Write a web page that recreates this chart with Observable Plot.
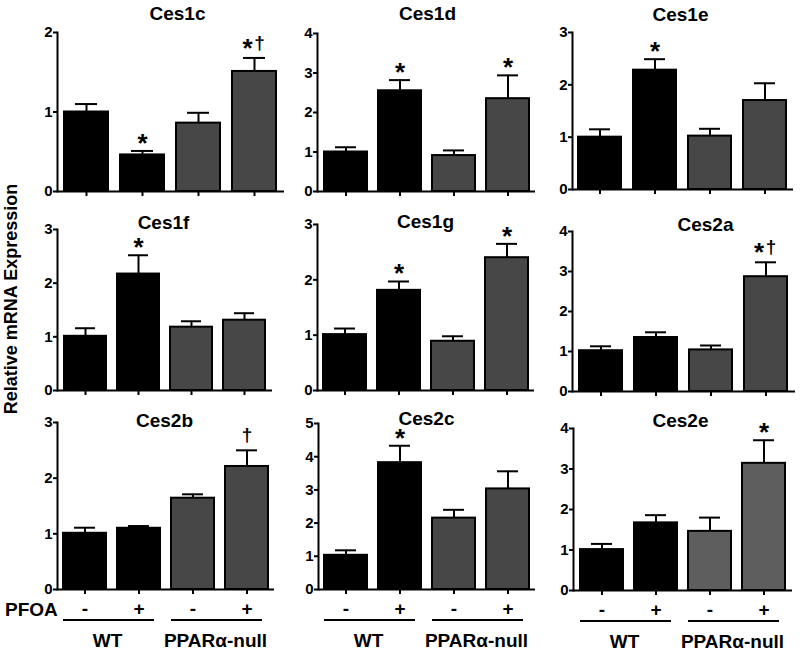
<!DOCTYPE html>
<html><head><meta charset="utf-8">
<script src="https://cdn.jsdelivr.net/npm/d3@7"></script>
<script src="https://cdn.jsdelivr.net/npm/@observablehq/plot@0.6"></script>
<style>
body{margin:0;background:#fff;}
#chart{position:relative;width:800px;height:651px;font-family:"Liberation Sans",Arial,sans-serif;overflow:hidden;}
#chart svg{position:absolute;overflow:visible;max-width:none;}
#ylab{position:absolute;left:11px;top:299px;transform:translate(-50%,-50%) rotate(-90deg);font-weight:bold;font-size:18px;white-space:nowrap;}
</style></head><body>
<div id="chart"><div id="ylab">Relative mRNA Expression</div></div>
<script>
// ---- data ----
const genes = ["Ces1c","Ces1d","Ces1e","Ces1f","Ces1g","Ces2a","Ces2b","Ces2c","Ces2e"];
const groups = ["WT -","WT +","KO -","KO +"];
const pfoaLabels = ["-","+","-","+"];
const genotypeLabels = ["WT","PPARα-null"];
const yMax = [2,4,3,3,3,4,3,5,4];
const means = [
  [1.00,0.46,0.86,1.51],
  [1.00,2.55,0.91,2.35],
  [1.00,2.28,1.02,1.70],
  [1.01,2.17,1.18,1.31],
  [1.01,1.81,0.89,2.40],
  [1.02,1.35,1.04,2.87],
  [1.01,1.10,1.64,2.21],
  [1.03,3.82,2.15,3.03],
  [1.01,1.67,1.46,3.14]
];
const errTops = [
  [1.10,0.51,0.99,1.68],
  [1.12,2.82,1.04,2.94],
  [1.15,2.49,1.16,2.03],
  [1.16,2.52,1.29,1.44],
  [1.12,1.97,0.98,2.65],
  [1.13,1.48,1.15,3.23],
  [1.11,1.14,1.71,2.50],
  [1.18,4.33,2.40,3.56],
  [1.15,1.86,1.80,3.71]
];
const stars = [
  ["","*","","*"],
  ["","*","","*"],
  ["","*","",""],
  ["","*","",""],
  ["","*","","*"],
  ["","","","*"],
  ["","","",""],
  ["","*","",""],
  ["","","","*"]
];
const daggers = [
  ["","","","†"],
  ["","","",""],
  ["","","",""],
  ["","","",""],
  ["","","",""],
  ["","","","†"],
  ["","","","†"],
  ["","","",""],
  ["","","",""]
];

// ---- layout (pixel positions, styles) ----
const layout = [
  {left:0,   ax:57,  w:227, top:32,  bot:191, tx:177, ty:13,  row:0, gray:"#474747"},
  {left:260, ax:317, w:218, top:33,  bot:191, tx:427, ty:13,  row:0, gray:"#474747"},
  {left:515, ax:572, w:221, top:32,  bot:189, tx:680, ty:14,  row:0, gray:"#474747"},
  {left:0,   ax:57,  w:215, top:229, bot:390, tx:163, ty:222, row:1, gray:"#474747"},
  {left:260, ax:317, w:217, top:224, bot:390, tx:425, ty:221, row:1, gray:"#474747"},
  {left:515, ax:572, w:223, top:231, bot:391, tx:705, ty:224, row:1, gray:"#474747"},
  {left:0,   ax:57,  w:217, top:422, bot:589, tx:164, ty:420, row:2, gray:"#474747"},
  {left:260, ax:318, w:217, top:423, bot:589, tx:426, ty:418, row:2, gray:"#474747"},
  {left:515, ax:573, w:219, top:428, bot:590, tx:680, ty:420, row:2, gray:"#5e5e5e"}
];
const FONT = '"Liberation Sans", Arial, sans-serif';
const chart = document.getElementById("chart");

genes.forEach((gene, k) => {
  const L = layout[k];
  const mt = 32, mb = L.row === 2 ? 62 : 12, ml = L.ax - L.left, mr = 8;
  const rows = groups.map((g, i) => ({g, v: means[k][i], e: errTops[k][i], s: stars[k][i], d: daggers[k][i]}));
  const both = rows.filter(r => r.s && r.d);
  const starOnly = rows.filter(r => r.s && !r.d);
  const dagOnly = rows.filter(r => r.d && !r.s);
  const bottomRow = L.row === 2;
  const svg = Plot.plot({
    width: ml + L.w + mr,
    height: mt + (L.bot - L.top) + mb,
    marginLeft: ml, marginRight: mr, marginTop: mt, marginBottom: mb,
    style: {fontFamily: FONT, background: "transparent", overflow: "visible"},
    x: {domain: groups, paddingInner: 0.21, paddingOuter: 0.11, axis: null},
    y: {domain: [0, yMax[k]], axis: null},
    color: {type: "identity"},
    marks: [
      Plot.barY(rows, {x: "g", y: "v", fill: r => r.g.startsWith("WT") ? "#000000" : L.gray, stroke: "#000", strokeWidth: 2}),
      Plot.ruleX(rows, {x: "g", y1: "v", y2: "e", stroke: "#000", strokeWidth: 2}),
      Plot.tickY(rows, {x: "g", y: "e", stroke: "#000", strokeWidth: 2, insetLeft: 11, insetRight: 11}),
      Plot.text(starOnly, {x: "g", y: "e", text: "s", fontSize: 26, fontWeight: "bold", lineAnchor: "bottom", dy: 1}),
      Plot.text(both, {x: "g", y: "e", text: "s", fontSize: 26, fontWeight: "bold", lineAnchor: "bottom", dy: -1, dx: -7}),
      Plot.text(both, {x: "g", y: "e", text: "d", fontSize: 19, fontWeight: "bold", lineAnchor: "bottom", dy: -9, dx: 5}),
      Plot.text(dagOnly, {x: "g", y: "e", text: "d", fontSize: 19, fontWeight: "bold", lineAnchor: "bottom", dy: -9}),
      Plot.axisY({ticks: d3.range(0, yMax[k] + 1), tickFormat: d => String(d), tickSize: 4, tickPadding: 1, fontSize: 15, fontWeight: "bold", strokeWidth: 2, label: null}),
      Plot.axisX({tickSize: 5, tickPadding: 7, strokeWidth: 2, fontSize: 19, fontWeight: "bold", label: null,
        tickFormat: d => bottomRow ? pfoaLabels[groups.indexOf(d)] : ""}),
      Plot.ruleY([0], {stroke: "#000", strokeWidth: 2}),
      Plot.frame({anchor: "left", stroke: "#000", strokeWidth: 2}),
      Plot.text([gene], {frameAnchor: "top-left", dx: L.tx - L.ax, dy: L.ty - L.top, text: d => d, fontSize: 19, fontWeight: "bold", textAnchor: "middle", lineAnchor: "middle"})
    ]
  });
  svg.style.left = L.left + "px";
  svg.style.top = (L.top - mt) + "px";
  if (bottomRow) {
    const sx = svg.scale("x");
    const y0 = mt + (L.bot - L.top);
    const g = d3.select(svg).append("g").attr("font-family", FONT).attr("font-weight", "bold").attr("font-size", 19);
    [[0, 1], [2, 3]].forEach(([a, b], j) => {
      const xa = sx.apply(groups[a]), xb = sx.apply(groups[b]) + sx.bandwidth;
      g.append("line").attr("x1", xa).attr("x2", xb - 6).attr("y1", y0 + 31).attr("y2", y0 + 31)
        .attr("stroke", "#000").attr("stroke-width", 2);
      g.append("text").attr("x", (xa + xb) / 2 - 4).attr("y", y0 + 52).attr("dy", "0.32em")
        .attr("text-anchor", "middle").text(genotypeLabels[j]);
    });
    if (k === 6) {
      g.append("text").attr("x", 5).attr("y", y0 + 21).attr("dy", "0.32em").attr("text-anchor", "start").text("PFOA");
    }
  }
  chart.appendChild(svg);
});
</script>
</body></html>
